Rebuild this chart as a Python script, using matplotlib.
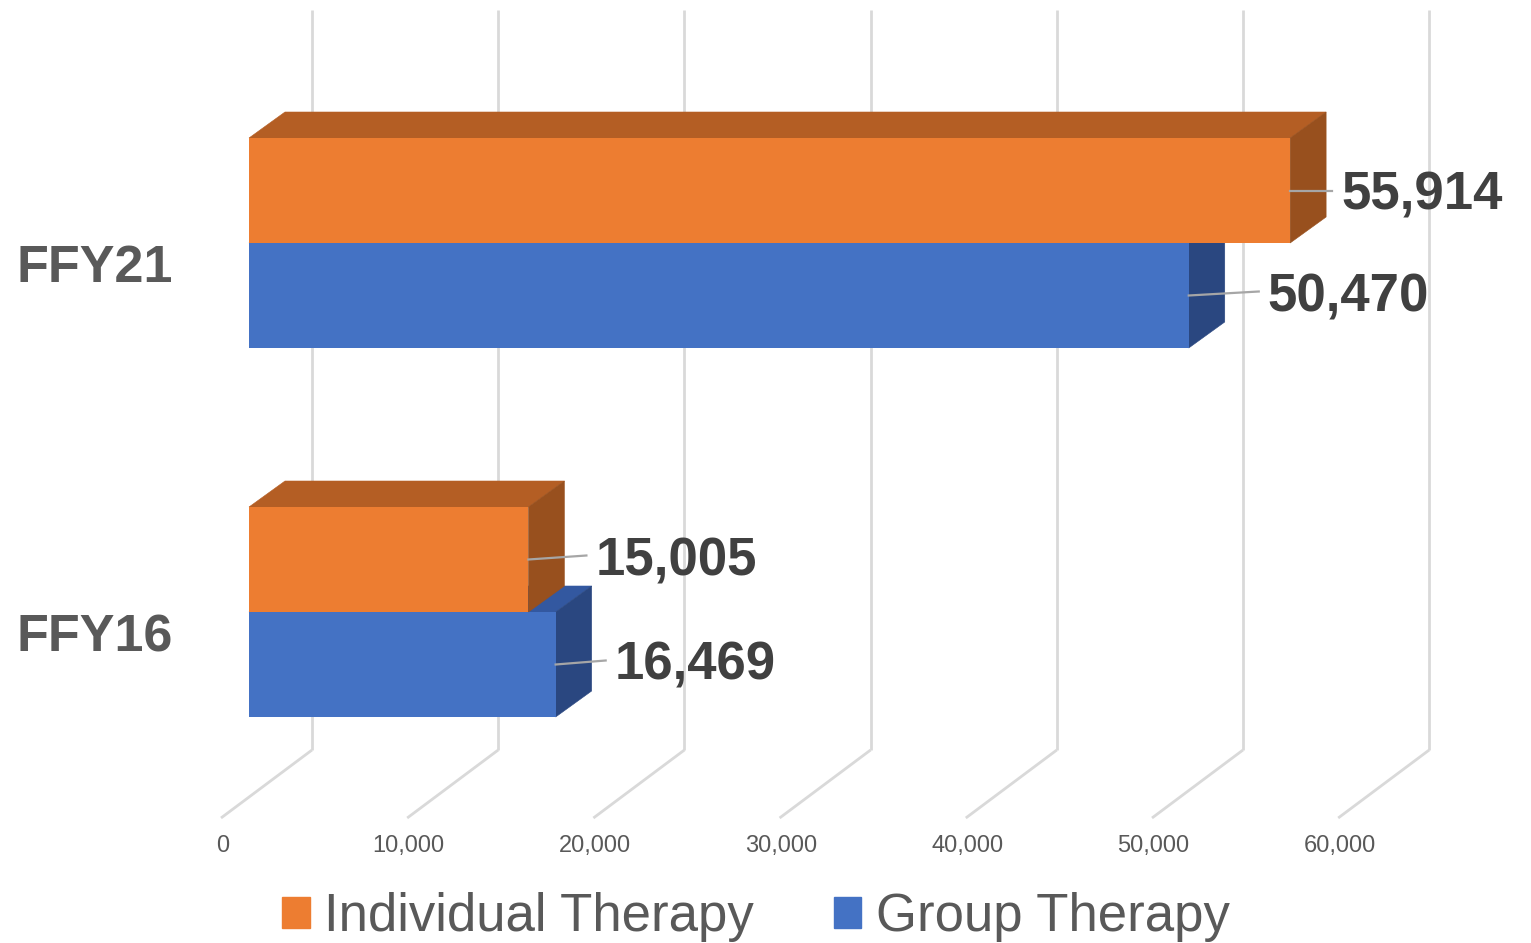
import matplotlib.pyplot as plt
from matplotlib.patches import Polygon, Patch

plt.rcParams['font.family'] = ['Liberation Sans', 'DejaVu Sans']

# data
categories = ['FFY16', 'FFY21']
individual = [15005, 55914]
group = [16469, 50470]
tick_values = [0, 10000, 20000, 30000, 40000, 50000, 60000]

# colours: front face, top face, side face
ORANGE = ('#ED7D31', '#B45E24', '#98501E')
BLUE = ('#4472C4', '#3358A0', '#2A4780')
GRID = '#D9D9D9'
LABEL_GREY = '#595959'
VALUE_GREY = '#404040'

W, H = 1531, 943
fig = plt.figure(figsize=(W / 100, H / 100), dpi=100)
ax = fig.add_axes([0, 0, 1, 1])
ax.axis('off')

# layout of the pseudo 3-D frame, in pixels
X0_PX = 249                 # value 0 on the bar front plane
PX_PER_UNIT = 186.2 / 10000
ROW0_PX = 612               # centre of the first category, from top
ROW_PX = 369                # spacing between categories
BAR_PX = 105                # height of one bar
DEPTH_PX = (36, 26)         # bar depth (right, up)


def xd(px):
    return (px - X0_PX) / PX_PER_UNIT


def yd(py):
    return (ROW0_PX - py) / ROW_PX


ax.set_xlim(xd(0), xd(W))
ax.set_ylim(yd(H), yd(0))

bar_h = BAR_PX / ROW_PX
dx = DEPTH_PX[0] / PX_PER_UNIT
dy = DEPTH_PX[1] / ROW_PX

# back wall gridlines and floor diagonals
wall_dx = xd(312)
floor_dx = xd(221)
for v in tick_values:
    ax.plot([v + wall_dx, v + wall_dx], [yd(750), yd(10)], color=GRID, lw=2, zorder=1,
            solid_capstyle='butt')
    ax.plot([v + floor_dx, v + wall_dx], [yd(818), yd(750)], color=GRID, lw=2, zorder=1,
            solid_capstyle='butt')
    ax.text(v + xd(222.5), yd(846), f'{v:,}', ha='center', va='center',
            fontsize=17, color=LABEL_GREY)


def draw_bar(value, centre, colours, z):
    front, top, side = colours
    b, t = centre - bar_h / 2, centre + bar_h / 2
    ax.add_patch(Polygon([(0, t), (value, t), (value + dx, t + dy), (dx, t + dy)],
                         closed=True, facecolor=top, edgecolor=top, lw=0.4, zorder=z))
    ax.add_patch(Polygon([(value, b), (value + dx, b + dy), (value + dx, t + dy), (value, t)],
                         closed=True, facecolor=side, edgecolor=side, lw=0.4, zorder=z))
    ax.barh(centre, value, height=bar_h, left=0, color=front, edgecolor='none', zorder=z)


# label offsets from the bar end: (right, up) in pixels
label_shift = {('FFY16', 'ind'): (69, 4), ('FFY16', 'grp'): (61, 4),
               ('FFY21', 'ind'): (53, 0), ('FFY21', 'grp'): (81, 4)}


def value_label(value, centre, key):
    sx, sy = label_shift[key]
    x_end = value + (sx - 11) / PX_PER_UNIT
    y_end = centre + sy / ROW_PX
    ax.plot([value, x_end], [centre, y_end], color='#A6A6A6', lw=1.6, zorder=6)
    ax.text(value + (sx - 2) / PX_PER_UNIT, y_end - 19.5 / ROW_PX, f'{value:,}',
            ha='left', va='baseline', fontsize=38, fontweight='bold',
            color=VALUE_GREY, zorder=7)


for i, cat in enumerate(categories):
    c_ind = i + bar_h / 2
    c_grp = i - bar_h / 2
    draw_bar(group[i], c_grp, BLUE, 3)
    draw_bar(individual[i], c_ind, ORANGE, 4)
    value_label(individual[i], c_ind, (cat, 'ind'))
    value_label(group[i], c_grp, (cat, 'grp'))
    ax.text(xd(16), i - 39.5 / ROW_PX, cat, ha='left', va='baseline',
            fontsize=37.5, fontweight='bold', color=LABEL_GREY)

handles = [Patch(color=ORANGE[0], label='Individual Therapy'),
           Patch(color=BLUE[0], label='Group Therapy')]
fig.legend(handles=handles, loc='center', bbox_to_anchor=(756 / W, 1 - 917 / H),
           ncol=2, frameon=False, prop={'size': 38}, labelcolor=LABEL_GREY,
           handlelength=0.52, handleheight=0.52, handletextpad=0.27,
           columnspacing=1.52, borderpad=0, borderaxespad=0)

fig.savefig('out.png', dpi=100)
